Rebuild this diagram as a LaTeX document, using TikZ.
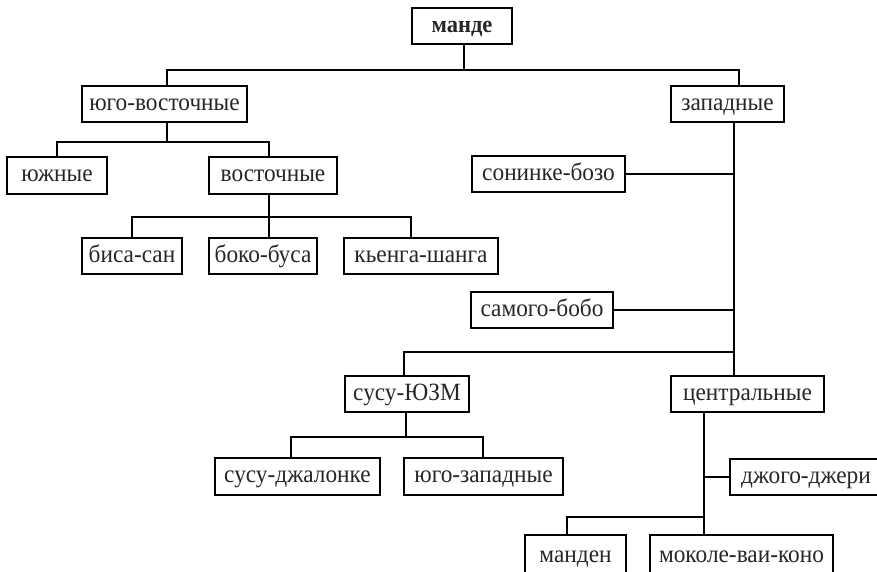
\documentclass[tikz,border=0pt]{standalone}
\usepackage{fontspec}
\setmainfont[FakeStretch=0.94]{Liberation Serif}
\begin{document}
\begin{tikzpicture}[x=1pt,y=-1pt,
  box/.style={draw, line width=1.6pt, inner sep=0pt, minimum height=36pt,
              text height=13.5pt, text depth=1pt,
              font=\fontsize{24.8}{28}\selectfont, text=black!85},
  link/.style={line width=1.6pt}]
\useasboundingbox (0,0) rectangle (877,571);

% language groups
\node[box, minimum width=100pt, font=\fontsize{24}{28}\selectfont\bfseries] (mande) at (462,26) {манде};
\node[box, minimum width=165pt] (yv)      at (164.5,104) {юго-восточные};
\node[box, minimum width=113pt] (zap)     at (727.5,104) {западные};
\node[box, minimum width=100pt, minimum height=37pt] (yuzh) at (57,175.5) {южные};
\node[box, minimum width=128pt, minimum height=37pt] (vost) at (273,175.5) {восточные};
\node[box, minimum width=100pt] (bisa)    at (132,256) {биса-сан};
\node[box, minimum width=108pt] (boko)    at (263,256) {боко-буса};
\node[box, minimum width=154pt] (kyenga)  at (421,256) {кьенга-шанга};
\node[box, minimum width=153pt] (soninke) at (548.5,174) {сонинке-бозо};
\node[box, minimum width=142pt] (samogo)  at (542,310) {самого-бобо};
\node[box, minimum width=124pt] (susu)    at (407,394) {сусу-ЮЗМ};
\node[box, minimum width=153pt] (centr)   at (747.5,394) {центральные};
\node[box, minimum width=165pt, minimum height=37pt] (susudzh) at (297.5,476.5) {сусу-джалонке};
\node[box, minimum width=159pt, minimum height=37pt] (yugozap) at (483.5,476.5) {юго-западные};
\node[box, minimum width=152pt] (dzhogo)  at (806,477) {джого-джери};
\node[box, minimum width=101pt, minimum height=42pt, text height=16.5pt, text depth=4pt] (manden) at (575.5,556) {манден};
\node[box, minimum width=183pt, minimum height=42pt, text height=16.5pt, text depth=4pt] (mokole) at (741.5,556) {моколе-ваи-коно};

% junction points
\coordinate (j0)  at (464,70);
\coordinate (h0l) at (167,70);
\coordinate (h0r) at (739,70);
\coordinate (h1l) at (57,142);
\coordinate (h1m) at (167,142);
\coordinate (h1r) at (269,142);
\coordinate (h2l) at (132,217);
\coordinate (h2m) at (269,217);
\coordinate (h2r) at (411,217);
\coordinate (tw)  at (734,0);
\coordinate (h3l) at (404,352);
\coordinate (h3r) at (734,352);
\coordinate (h4l) at (291,437);
\coordinate (h4m) at (406,437);
\coordinate (h4r) at (483,437);
\coordinate (tc)  at (704,0);
\coordinate (h5l) at (567,517);
\coordinate (h5r) at (704,517);

% connectors
\draw[link] (mande.south -| j0) -- (j0);
\draw[link] (yv.north -| h0l) -- (h0l) -- (h0r) -- (zap.north -| h0r);

\draw[link] (yv.south -| h1m) -- (h1m);
\draw[link] (yuzh.north -| h1l) -- (h1l) -- (h1r) -- (vost.north -| h1r);

\draw[link] (vost.south -| h2m) -- (boko.north -| h2m);
\draw[link] (bisa.north -| h2l) -- (h2l) -- (h2r) -- (kyenga.north -| h2r);

\draw[link] (zap.south -| tw) -- (centr.north -| tw);
\draw[link] (soninke.east) -- (soninke.east -| tw);
\draw[link] (samogo.east) -- (samogo.east -| tw);
\draw[link] (susu.north -| h3l) -- (h3l) -- (h3r);

\draw[link] (susu.south -| h4m) -- (h4m);
\draw[link] (susudzh.north -| h4l) -- (h4l) -- (h4r) -- (yugozap.north -| h4r);

\draw[link] (centr.south -| tc) -- (mokole.north -| tc);
\draw[link] (dzhogo.west) -- (dzhogo.west -| tc);
\draw[link] (manden.north -| h5l) -- (h5l) -- (h5r);
\end{tikzpicture}
\end{document}
